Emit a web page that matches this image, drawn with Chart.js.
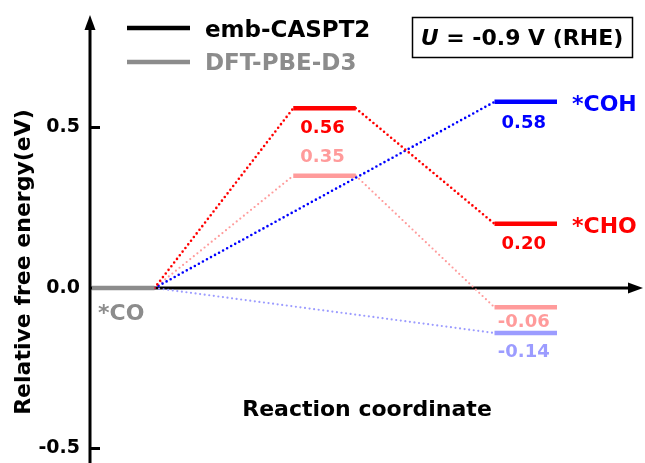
<!DOCTYPE html>
<html>
<head>
<meta charset="utf-8">
<script src="https://cdn.jsdelivr.net/npm/chart.js@4.4.1/dist/chart.umd.min.js"></script>
<style>
  html, body { margin: 0; padding: 0; background: #fff; }
  #wrap { width: 645px; height: 463px; }
</style>
</head>
<body>
<div id="wrap"><canvas id="chart"></canvas></div>
<script>
// Relative free energies (eV) of *CO reduction, referenced to *CO
const choSteps = [0, 1, 2]
const cohSteps = [0, 2]          // *COH has no barrier column, goes straight to the end
const choCaspt2 = [0.00, 0.56, 0.20]
const choDft = [0.00, 0.35, -0.06]
const cohCaspt2 = [0.00, 0.58]
const cohDft = [0.00, -0.14]
const methods = ['emb-CASPT2', 'DFT-PBE-D3']
const species = ['*CO', '*CHO', '*COH']
const yTicks = [-0.5, 0.0, 0.5]
const potential = ['U', ' = -0.9 V (RHE)']

const FONT = '"DejaVu Sans", sans-serif'
const RED = '#ff0000'
const BLUE = '#0000ff'
const PINK = '#ff9b9b'
const LILAC = '#9c9cff'
const GRAY = '#8c8c8c'

// each level is 1 unit wide, columns are GAP units apart
const GAP = 3.22
const LEVEL = 1

function pathPoints (steps, values) {
  const pts = [{ x: steps[0] * GAP + LEVEL, y: values[0] }]
  for (let i = 1; i < steps.length; i++) {
    pts.push({ x: steps[i] * GAP, y: values[i] })
    pts.push({ x: steps[i] * GAP + LEVEL, y: values[i] })
  }
  return pts
}

// odd segments are the energy levels, even ones the dotted connectors
function pathDataset (steps, values, color, dot) {
  return {
    data: pathPoints(steps, values),
    borderColor: color,
    borderWidth: 4.5,
    pointRadius: 0,
    segment: {
      borderWidth: c => c.p0DataIndex % 2 ? 4.5 : dot,
      borderDash: c => c.p0DataIndex % 2 ? [] : [0, 4.6],
      borderCapStyle: c => c.p0DataIndex % 2 ? 'butt' : 'round'
    }
  }
}

const coLevel = {
  data: [{ x: 0, y: choCaspt2[0] }, { x: LEVEL, y: choCaspt2[0] }],
  borderColor: GRAY,
  borderWidth: 4.5,
  pointRadius: 0
}

// value labels, dy = baseline offset from the level (negative = above)
const labelSets = [
  { steps: choSteps, values: choCaspt2, color: RED, dy: [0, 25, 25] },
  { steps: cohSteps, values: cohCaspt2, color: BLUE, dy: [0, 26] },
  { steps: choSteps, values: choDft, color: PINK, dy: [0, -14, 20] },
  { steps: cohSteps, values: cohDft, color: LILAC, dy: [0, 24] }
]

function arrow (ctx, x, y, dir) {
  ctx.beginPath()
  if (dir === 'up') {
    ctx.moveTo(x, y); ctx.lineTo(x - 5.5, y + 15); ctx.lineTo(x + 5.5, y + 15)
  } else {
    ctx.moveTo(x, y); ctx.lineTo(x - 15, y - 5.5); ctx.lineTo(x - 15, y + 5.5)
  }
  ctx.closePath()
  ctx.fill()
}

const diagram = {
  id: 'diagram',
  beforeDatasetsDraw (chart) {
    const { ctx, chartArea: a, scales: { y } } = chart
    const y0 = y.getPixelForValue(0)
    ctx.save()
    ctx.strokeStyle = '#000'
    ctx.fillStyle = '#000'
    ctx.lineWidth = 3
    ctx.beginPath()
    ctx.moveTo(a.left, a.bottom); ctx.lineTo(a.left, a.top + 10)
    ctx.moveTo(a.left, y0); ctx.lineTo(a.right - 10, y0)
    yTicks.filter(v => v !== 0).forEach(v => {
      const py = y.getPixelForValue(v)
      ctx.moveTo(a.left, py); ctx.lineTo(a.left + 10, py)
    })
    ctx.stroke()
    arrow(ctx, a.left, a.top, 'up')
    arrow(ctx, a.right, y0, 'right')
    ctx.restore()
  },
  afterDatasetsDraw (chart) {
    const { ctx, scales: { x, y } } = chart
    ctx.save()

    // energy values under / over each level
    ctx.font = 'bold 18px ' + FONT
    ctx.textAlign = 'center'
    ctx.textBaseline = 'alphabetic'
    labelSets.forEach(s => {
      for (let i = 1; i < s.steps.length; i++) {
        const px = x.getPixelForValue(s.steps[i] * GAP + LEVEL / 2) - 2
        const py = y.getPixelForValue(s.values[i])
        ctx.fillStyle = s.color
        ctx.fillText(s.values[i].toFixed(2), px, py + s.dy[i])
      }
    })

    // species names
    ctx.font = 'bold 22px ' + FONT
    ctx.textAlign = 'left'
    ctx.fillStyle = GRAY
    ctx.fillText(species[0], x.getPixelForValue(0) + 6, y.getPixelForValue(0) + 32)
    ctx.textBaseline = 'middle'
    ctx.fillStyle = RED
    ctx.fillText(species[1], x.getPixelForValue(2 * GAP + LEVEL) + 15, y.getPixelForValue(choCaspt2[2]) + 3)
    ctx.fillStyle = BLUE
    ctx.fillText(species[2], x.getPixelForValue(2 * GAP + LEVEL) + 15, y.getPixelForValue(cohCaspt2[1]) + 3)

    // legend
    ctx.font = 'bold 23px ' + FONT
    ctx.textBaseline = 'alphabetic'
    ctx.lineWidth = 4.5
    ;[['#000', 28, 37], [GRAY, 62, 70]].forEach(([c, ly, tb], i) => {
      ctx.strokeStyle = c
      ctx.beginPath(); ctx.moveTo(127, ly); ctx.lineTo(190, ly); ctx.stroke()
      ctx.fillStyle = c
      ctx.fillText(methods[i], 205, tb)
    })

    // potential box
    ctx.lineWidth = 1.5
    ctx.strokeStyle = '#000'
    ctx.strokeRect(412.5, 17.5, 220, 40)
    ctx.fillStyle = '#000'
    ctx.font = 'italic bold 22px ' + FONT
    const wU = ctx.measureText(potential[0]).width
    ctx.font = 'bold 22px ' + FONT
    const wRest = ctx.measureText(potential[1]).width
    const tx = 522 - (wU + wRest) / 2
    ctx.font = 'italic bold 22px ' + FONT
    ctx.fillText(potential[0], tx, 45)
    ctx.font = 'bold 22px ' + FONT
    ctx.fillText(potential[1], tx + wU, 45)

    // axis titles
    ctx.textAlign = 'center'
    ctx.fillText('Reaction coordinate', 367, 416)
    ctx.translate(24, 262)
    ctx.rotate(-Math.PI / 2)
    ctx.textBaseline = 'middle'
    ctx.fillText('Relative free energy(eV)', 0, 0)
    ctx.restore()
  }
}

new Chart(document.getElementById('chart'), {
  type: 'line',
  data: {
    datasets: [
      coLevel,
      pathDataset(choSteps, choCaspt2, RED, 2.6),
      pathDataset(cohSteps, cohCaspt2, BLUE, 2.6),
      pathDataset(choSteps, choDft, PINK, 2.2),
      pathDataset(cohSteps, cohDft, LILAC, 2.2)
    ]
  },
  options: {
    responsive: true,
    maintainAspectRatio: false,
    animation: false,
    devicePixelRatio: 1,
    layout: { padding: { top: 15, right: 2, bottom: 0, left: 0 } },
    plugins: { legend: { display: false }, tooltip: { enabled: false } },
    scales: {
      x: { type: 'linear', display: false, min: -0.032, max: 8.816 },
      y: {
        min: -0.545,
        max: 0.8505,
        // fixed axis width, and no extra room reserved for end labels
        afterFit: s => {
          s.width = 90
          s.paddingTop = 0
          s.paddingBottom = 0
        },
        afterBuildTicks: s => { s.ticks = yTicks.map(v => ({ value: v })) },
        grid: { display: false, drawTicks: false },
        border: { display: false },
        ticks: {
          padding: 10,
          color: '#000',
          font: { family: FONT, weight: 'bold', size: 19 },
          callback: v => v.toFixed(1)
        }
      }
    }
  },
  plugins: [diagram]
})
</script>
</body>
</html>
